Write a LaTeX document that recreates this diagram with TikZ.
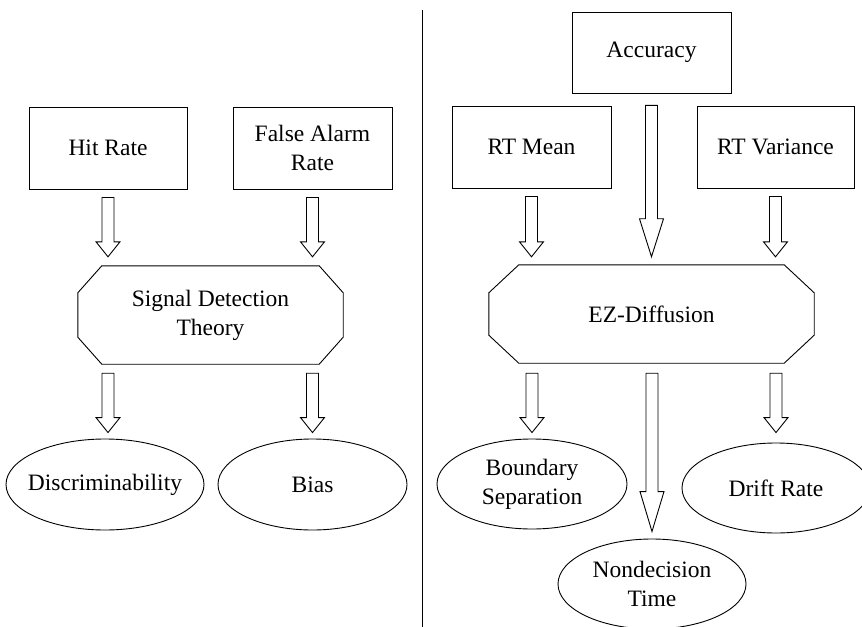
\documentclass[tikz,border=0pt]{standalone}
\usepackage{fontspec}
\setmainfont{Liberation Serif}
\usetikzlibrary{calc,shapes.geometric}
\tikzset{
  base/.style={font=\fontsize{23.5bp}{29bp}\selectfont, inner sep=0pt, align=center},
  boxnode/.style={base, draw, line width=0.9bp, minimum width=159bp, minimum height=82bp},
  ellnode/.style={draw, ellipse, line width=0.9bp, inner sep=0pt},
  lbl/.style={base},
  octnode/.style={base, minimum width=#1},
  barrow/.style={draw, fill=white, line width=0.9bp, line join=miter},
}
\newcommand{\barr}[5]{%
  \draw[barrow] let \p1=(#1), \p2=(#2) in
    (\x1-6bp,\y1-#3) -- (\x1+6bp,\y1-#3) -- (\x1+6bp,\y2+#4+#5) -- (\x1+12bp,\y2+#4+#5)
    -- (\x1,\y2+#4) -- (\x1-12bp,\y2+#4+#5) -- (\x1-6bp,\y2+#4+#5) -- cycle;}
\newcommand{\octo}[3]{%
  \draw[line width=0.9bp] ([xshift=#2]#1.north west) -- ([xshift=-#2]#1.north east)
    -- ([yshift=-#3]#1.north east) -- ([yshift=#3]#1.south east)
    -- ([xshift=-#2]#1.south east) -- ([xshift=#2]#1.south west)
    -- ([yshift=#3]#1.south west) -- ([yshift=-#3]#1.north west) -- cycle;}
\begin{document}
\begin{tikzpicture}[x=1bp,y=-1bp]
\useasboundingbox (0,0) rectangle (862,627);
% divider
\coordinate (divtop) at (422.5,10);
\coordinate (divbot) at (422.5,627);
\draw[line width=0.9bp] (divtop) -- (divbot);

% left side
\node[boxnode, minimum width=158bp] (hit) at (108,148) {Hit Rate};
\node[boxnode] (fa) at (312.5,148) {False Alarm\\Rate};
\node[base, minimum width=265bp, minimum height=98bp] (sdt) at (210.5,315) {Signal Detection\\Theory};
\octo{sdt}{24bp}{27bp}
\node[ellnode, minimum width=198bp, minimum height=91bp, label={[lbl]center:Discriminability}] (disc) at (105,484.5) {};
\node[ellnode, minimum width=189bp, minimum height=91bp, label={[lbl]center:Bias}] (bias) at (312.5,484.5) {};

% right side
\node[boxnode, minimum height=81bp] (acc) at (651.5,52.5) {Accuracy};
\node[boxnode] (rtm) at (531.5,147) {RT Mean};
\node[boxnode, minimum width=157bp] (rtv) at (775.5,147) {RT Variance};
\node[base, minimum width=325bp, minimum height=98bp] (ez) at (651.5,314) {EZ-Diffusion};
\octo{ez}{30bp}{28bp}
\node[ellnode, minimum width=190bp, minimum height=90bp, label={[lbl]center:Boundary\\Separation}] (bound) at (532,484) {};
\node[ellnode, minimum width=188bp, minimum height=90bp, label={[lbl]center:Drift Rate}] (drift) at (776,488) {};
\node[ellnode, minimum width=188bp, minimum height=90bp, label={[lbl]center:Nondecision\\Time}] (nond) at (652,584) {};

% block arrows
\barr{hit.south}{sdt.north}{8bp}{9bp}{15bp}
\barr{fa.south}{sdt.north}{8bp}{9bp}{15bp}
\barr{sdt.south -| hit.south}{disc.north}{9bp}{6bp}{15bp}
\barr{sdt.south -| fa.south}{bias.north}{9bp}{6bp}{15bp}
\barr{acc.south}{ez.north}{12bp}{8bp}{38bp}
\barr{rtm.south}{ez.north}{8bp}{8bp}{15bp}
\barr{rtv.south}{ez.north}{8bp}{8bp}{15bp}
\barr{ez.south -| bound.north}{bound.north}{10bp}{6bp}{15bp}
\barr{ez.south -| nond.north}{nond.north}{10bp}{7bp}{40bp}
\barr{ez.south -| drift.north}{drift.north}{10bp}{10bp}{15bp}
\end{tikzpicture}
\end{document}
